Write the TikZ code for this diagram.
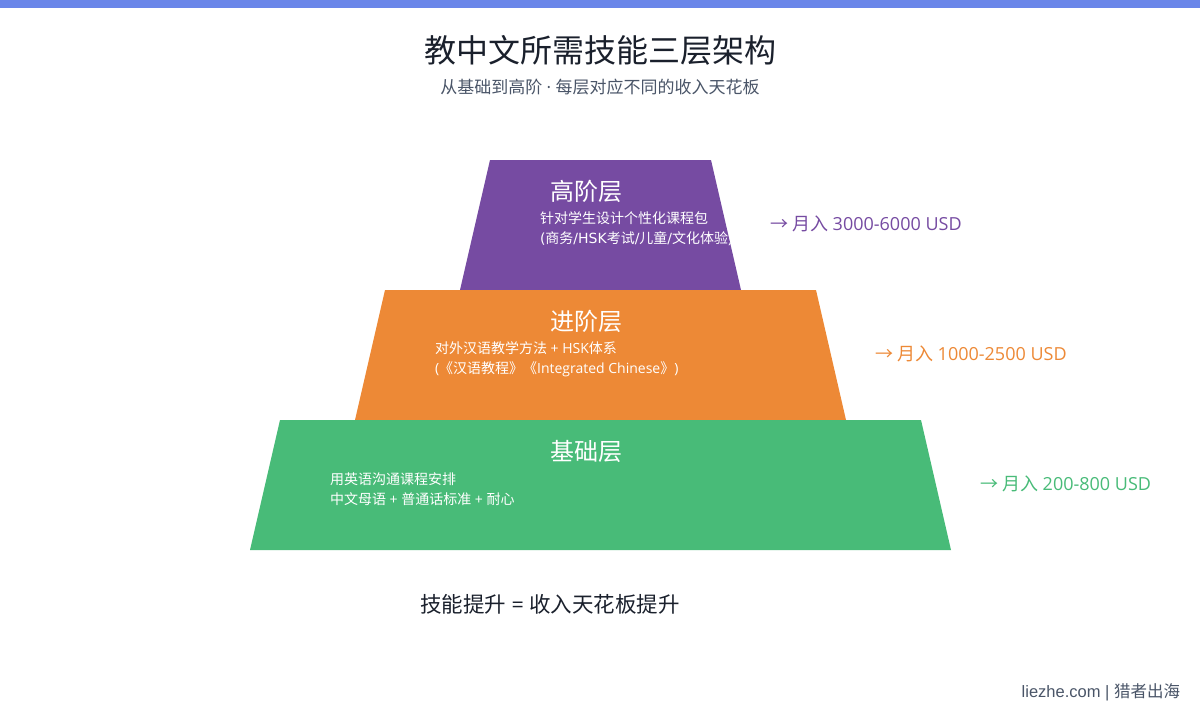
\documentclass[tikz,border=0pt]{standalone}
\usepackage{fontspec}
\setmainfont{Noto Sans CJK SC}
\newfontfamily\lat{Open Sans}
\newfontfamily\latw{DejaVu Sans}
\newfontfamily\arial{Liberation Sans}
\definecolor{topbar}{HTML}{6A86E9}
\definecolor{cpurple}{HTML}{764BA2}
\definecolor{corange}{HTML}{ED8936}
\definecolor{cgreen}{HTML}{48BB78}
\definecolor{ctitle}{HTML}{1A202C}
\definecolor{csub}{HTML}{4A5568}
\tikzset{
  txt/.style={inner sep=0pt, outer sep=0pt},
  layername/.style={txt, anchor=west, text=white, font=\fontsize{24}{28}\selectfont},
  layerdesc/.style={txt, anchor=west, align=left, text=white, font=\fontsize{14}{20}\selectfont},
  income/.style={txt, anchor=west, font=\fontsize{18}{20}\selectfont},
}
\begin{document}
\begin{tikzpicture}[x=1pt,y=-1pt]
\useasboundingbox (0,0) rectangle (1200,720);
\fill[white] (0,0) rectangle (1200,720);
\fill[topbar] (0,0) rectangle (1200,8);
\node[txt, text=ctitle, font=\fontsize{32}{36}\selectfont] (title) at (600,50) {教中文所需技能三层架构};
\node[txt, text=csub, font=\fontsize{17}{20}\selectfont] (subtitle) at (600,87) {从基础到高阶{\lat{} · }每层对应不同的收入天花板};
% layers
\fill[cpurple] (490,160) -- (711,160) -- (741,290) -- (460,290) -- cycle;
\fill[corange] (385,290) -- (816,290) -- (846,420) -- (355,420) -- cycle;
\fill[cgreen] (280,420) -- (921,420) -- (951,550) -- (250,550) -- cycle;
\begin{scope}
\clip (490,160) -- (711,160) -- (741,290) -- (460,290) -- cycle;
\node[layername] (n3) at (550,191) {高阶层};
\node[layerdesc] (d3) at (540,229) {针对学生设计个性化课程包\\{\latw(}商务{\latw/HSK}考试{\latw/}儿童{\latw/}文化体验{\lat)}};
\end{scope}
\node[layername] (n2) at (550,321) {进阶层};
\node[layerdesc] (d2) at (435,359) {对外汉语教学方法{\lat{} + HSK}体系\\{\lat(}《汉语教程》《{\lat Integrated Chinese}》{\lat)}};
\node[layername] (n1) at (550,451) {基础层};
\node[layerdesc] (d1) at (330,489) {用英语沟通课程安排\\中文母语{\lat{} + }普通话标准{\lat{} + }耐心};
\node[income, text=cpurple] (i3) at (770,224) {→ 月入{\lat{} 3000-6000 USD}};
\node[income, text=corange] (i2) at (875,354) {→ 月入{\lat{} 1000-2500 USD}};
\node[income, text=cgreen] (i1) at (980,484) {→ 月入{\lat{} 200-800 USD}};
\node[txt, anchor=west, text=ctitle, font=\fontsize{21.5}{24}\selectfont] (summary) at (420,604) {技能提升{\lat{} = }收入天花板提升};
\node[txt, anchor=east, text=csub, font=\fontsize{16.5}{20}\selectfont] (footer) at (1180,692) {{\arial liezhe.com | }猎者出海};
\end{tikzpicture}
\end{document}
